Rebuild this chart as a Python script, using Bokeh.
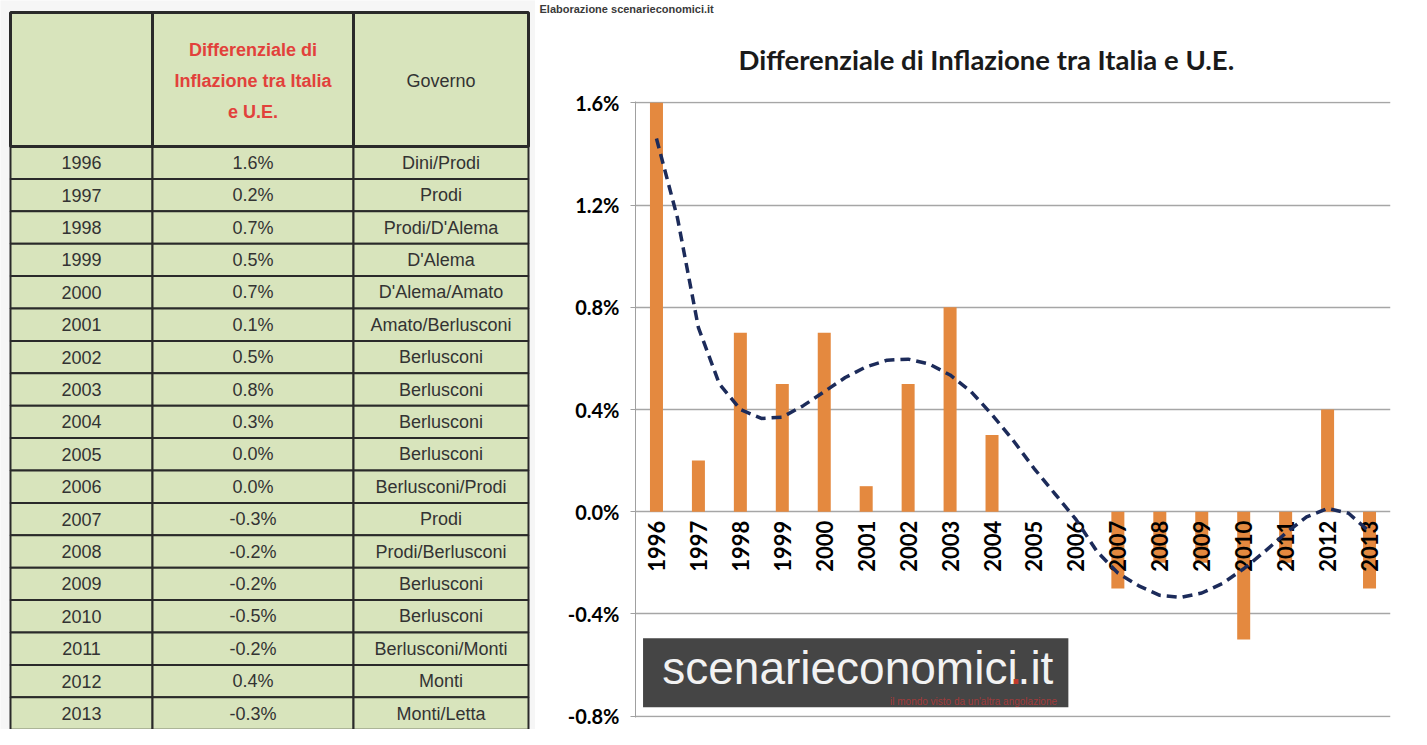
import math
from bokeh.plotting import figure
from bokeh.models import Range1d, FixedTicker, PrintfTickFormatter, Title
from bokeh.layouts import row
from bokeh.core.properties import value
from bokeh.embed import file_html
from bokeh.resources import INLINE

# ---------------- data ----------------
years = [1996, 1997, 1998, 1999, 2000, 2001, 2002, 2003, 2004,
         2005, 2006, 2007, 2008, 2009, 2010, 2011, 2012, 2013]
diff = [1.6, 0.2, 0.7, 0.5, 0.7, 0.1, 0.5, 0.8, 0.3,
        0.0, 0.0, -0.3, -0.2, -0.2, -0.5, -0.2, 0.4, -0.3]
governo = ["Dini/Prodi", "Prodi", "Prodi/D'Alema", "D'Alema", "D'Alema/Amato",
           "Amato/Berlusconi", "Berlusconi", "Berlusconi", "Berlusconi",
           "Berlusconi", "Berlusconi/Prodi", "Prodi", "Prodi/Berlusconi",
           "Berlusconi", "Berlusconi", "Berlusconi/Monti", "Monti", "Monti/Letta"]
# polynomial trend line
trend_x = [1996.0, 1996.5, 1997.0, 1997.5, 1998.0, 1998.5, 1999.0, 1999.5,
           2000.0, 2000.5, 2001.0, 2001.5, 2002.0, 2002.5, 2003.0, 2003.5,
           2004.0, 2004.5, 2005.0, 2005.5, 2006.0, 2006.5, 2007.0, 2007.5,
           2008.0, 2008.5, 2009.0, 2009.5, 2010.0, 2010.5, 2011.0, 2011.5,
           2012.0, 2012.5, 2013.0]
trend_y = [1.46, 1.15, 0.72, 0.50, 0.40, 0.365, 0.37, 0.415,
           0.47, 0.525, 0.567, 0.593, 0.597, 0.578, 0.535, 0.47,
           0.38, 0.28, 0.17, 0.07, -0.03, -0.155, -0.24, -0.29,
           -0.327, -0.335, -0.318, -0.28, -0.223, -0.156, -0.084, -0.02,
           0.013, -0.006, -0.078]
y_ticks = [-0.8, -0.4, 0.0, 0.4, 0.8, 1.2, 1.6]
chart_title = "Differenziale di Inflazione tra Italia e U.E."
header_diff = "Differenziale di\nInflazione tra Italia\ne U.E."
header_gov = "Governo"
brand = "scenarieconomici.it"
slogan = "il mondo visto da un'altra angolazione"
source_note = "Elaborazione scenarieconomici.it"

# ---------------- table ----------------
TW, TH = 535, 729
t = figure(width=TW, height=TH, x_range=Range1d(0, TW), y_range=Range1d(TH, 0),
           output_backend="svg", toolbar_location=None, min_border=0,
           x_axis_location=None, y_axis_location=None, frame_align=False,
           background_fill_color="#f6f6f6", border_fill_color="#f6f6f6",
           outline_line_color=None)
t.grid.visible = False

edges = [10, 152, 353, 528]
head_top, head_bot = 12, 146
row_h = 32.4
ncol = 3
cx = [(edges[j] + edges[j + 1]) / 2 for j in range(ncol)]
cw = [edges[j + 1] - edges[j] for j in range(ncol)]

xs, ys, ws, hs = [], [], [], []
for i in range(len(years)):
    for j in range(ncol):
        xs.append(cx[j]); ws.append(cw[j])
        ys.append(head_bot + row_h * (i + 0.5)); hs.append(row_h)
t.rect(x=xs, y=ys, width=ws, height=hs, fill_color="#d8e4bc",
       line_color="#2a2a2a", line_width=2)
t.rect(x=cx, y=[(head_top + head_bot) / 2] * 3, width=cw,
       height=[head_bot - head_top] * 3, fill_color="#d8e4bc",
       line_color="#2a2a2a", line_width=3)

row_y = [head_bot + row_h * (i + 0.5) for i in range(len(years))]
common = dict(text_font=value("Liberation Sans"), text_font_size="18px",
              text_color="#333333", text_align="center", text_baseline="middle")
t.text(x=[cx[0]] * len(years), y=row_y, text=[str(y) for y in years], **common)
t.text(x=[cx[1]] * len(years), y=row_y, text=[f"{v:.1f}%" for v in diff], **common)
t.text(x=[cx[2]] * len(years), y=row_y, text=governo, **common)
t.text(x=[cx[1]], y=[(head_top + head_bot) / 2 + 1], text=[header_diff],
       text_font=value("Liberation Sans"), text_font_size="18px",
       text_font_style="bold", text_color="#e2413b", text_align="center",
       text_baseline="middle", text_line_height=1.55)
t.text(x=[cx[2]], y=[(head_top + head_bot) / 2 + 1], text=[header_gov], **common)

# ---------------- chart ----------------
CW, CH = 884, 729
c = figure(width=CW, height=CH, x_range=Range1d(1995.5, 2013.5),
           y_range=Range1d(-0.805, 1.605), x_axis_location=None, title=None,
           output_backend="svg", toolbar_location=None, frame_align=False,
           min_border_left=100, min_border_right=29, min_border_top=100,
           min_border_bottom=12, outline_line_color=None,
           background_fill_color="white", border_fill_color="white")
c.add_layout(Title(text=chart_title, align="left", offset=103, text_font="Lato",
                   text_font_size="27.5px", text_font_style="bold",
                   text_color="#1a1a1a", standoff=52), "above")
c.add_layout(Title(text=source_note, align="left", offset=-96,
                   text_font="Liberation Sans", text_font_size="11px",
                   text_font_style="bold", text_color="#3a3a3a", standoff=0), "above")

c.yaxis.ticker = FixedTicker(ticks=y_ticks)
c.yaxis.formatter = PrintfTickFormatter(format="%.1f%%")
c.yaxis.major_label_text_font = "Lato"
c.yaxis.major_label_text_font_size = "20px"
c.yaxis.major_label_text_font_style = "bold"
c.yaxis.major_label_text_color = "black"
c.yaxis.axis_line_color = "#a0a0a0"
c.yaxis.major_tick_line_color = "#a0a0a0"
c.yaxis.major_tick_out = 5
c.yaxis.major_tick_in = 0
c.yaxis.minor_tick_line_color = None
c.yaxis.major_label_standoff = 11
c.xgrid.visible = False
c.ygrid.ticker = FixedTicker(ticks=y_ticks)
c.ygrid.grid_line_color = "#a6a6a6"
c.ygrid.grid_line_width = 1.5

c.vbar(x=years, top=diff, bottom=0, width=0.31, fill_color="#e4893f", line_color=None)

c.text(x=years, y=[0] * len(years), text=[str(y) for y in years], angle=math.pi / 2,
       text_align="right", text_baseline="middle", y_offset=9,
       text_font=value("Lato"), text_font_style="bold", text_font_size="22px",
       text_color="black")

# watermark
c.quad(left=[1995.68], right=[2005.82], bottom=[-0.765], top=[-0.495],
       fill_color="#454545", line_color=None)
c.text(x=[2000.8], y=[-0.61], text=[brand], text_font=value("Liberation Sans"),
       text_font_size="46px", text_color="#f2f2f2", text_align="center",
       text_baseline="middle")
c.text(x=[2004.57], y=[-0.61], text=["."], text_font=value("Liberation Sans"),
       text_font_size="46px", text_color="#c0392b", text_align="center",
       text_baseline="middle")
c.text(x=[2005.55], y=[-0.742], text=[slogan], text_font=value("Liberation Sans"),
       text_font_size="10px", text_color="#a33a3a", text_align="right",
       text_baseline="middle")

c.line(trend_x, trend_y, line_color="#1c2b5a", line_width=3.5, line_dash="10 6")

layout = row(t, c)
open("out.html", "w").write(file_html(layout, INLINE))
